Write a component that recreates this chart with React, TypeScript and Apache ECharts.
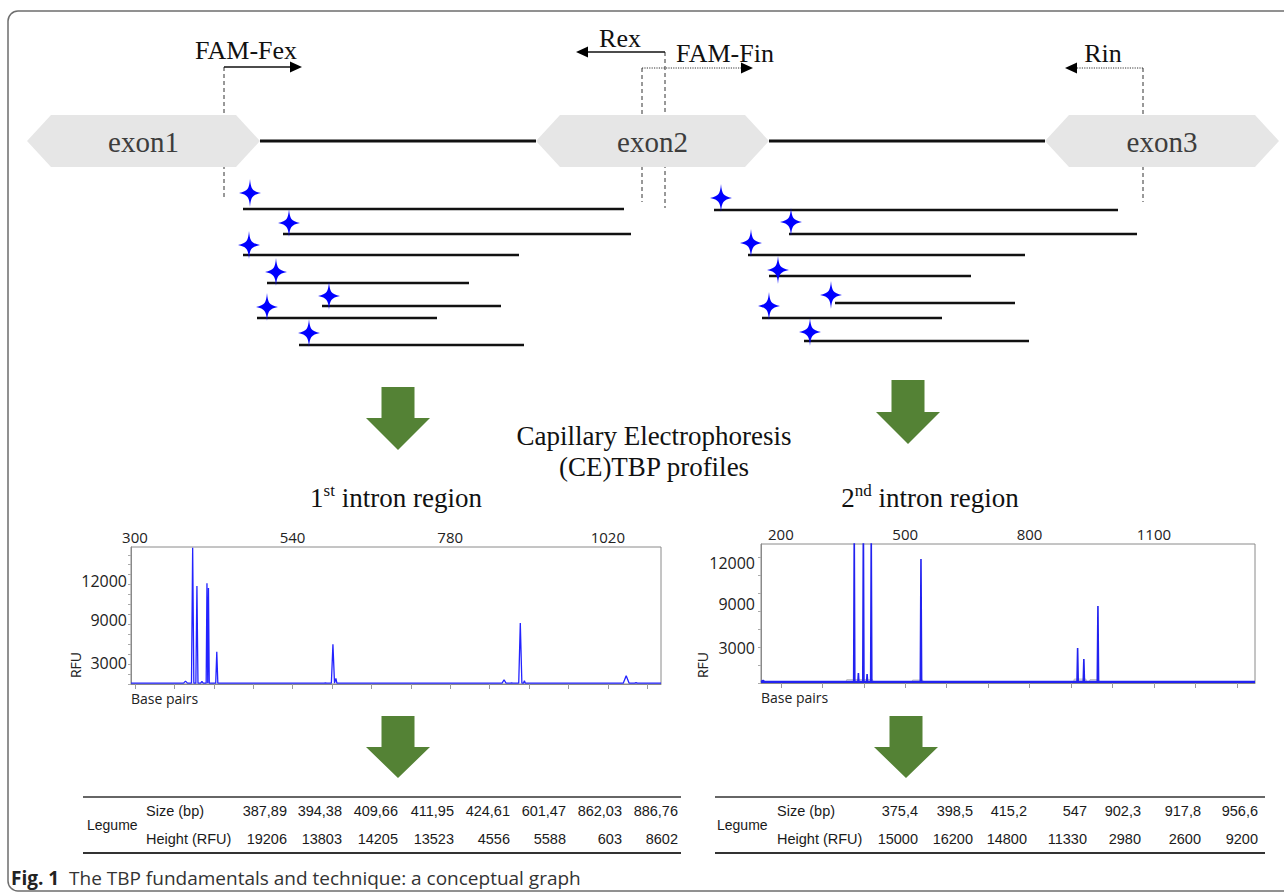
import React, { useEffect, useRef } from 'react';
import * as echarts from 'echarts';

// ---------------- Top diagram (hidden cartesian grid, units = canvas px) ----------------
const exonNames = ['exon1', 'exon2', 'exon3'];
const exonStart = [27, 536, 1045];
const exonEnd = [260, 769, 1279];
const exonY = [141, 141, 141];

const intronStart = [260, 769];
const intronEnd = [536, 1045];
const intronY = [141, 141];

const primerNames = ['FAM-Fex', 'Rex', 'FAM-Fin', 'Rin'];
const primerAnchor = [224, 665, 642, 1143];
const primerTip = [302, 576, 753, 1065];
const primerY = [67, 52, 68, 68];
const primerGuideEnd = [200, 208, 202, 202];
const primerDotted = [0, 0, 1, 1];
const primerLabelX = [246, 620, 725, 1103];
const primerLabelY = [50, 38, 53, 53];

const frag1Start = [243, 283, 243, 267, 322, 257, 299];
const frag1End = [624, 631, 519, 469, 501, 437, 524];
const frag1Y = [209, 234, 255, 283, 306, 318, 345];
const star1X = [250, 289, 249, 276, 329, 267, 309];
const star1Y = [193, 223, 245, 272, 296, 307, 333];

const frag2Start = [714, 789, 748, 769, 835, 762, 804];
const frag2End = [1118, 1137, 1025, 971, 1015, 942, 1029];
const frag2Y = [210, 234, 255, 276, 303, 318, 341];
const star2X = [721, 791, 751, 778, 831, 769, 810];
const star2Y = [198, 222, 243, 270, 295, 306, 332];

const greenArrowX = [398, 908, 398, 906];
const greenArrowTop = [387, 380, 716, 716];
const greenArrowNeck = [418, 412, 747, 747];
const greenArrowTip = [450, 444, 778, 778];

// ---------------- CE profile, 1st intron ----------------
const ce1XMin = 294;
const ce1XMax = 1101;
const ce1XTicks = [300, 360, 420, 480, 540, 600, 660, 720, 780, 840, 900, 960, 1020, 1080];
const ce1XLabels = [300, 540, 780, 1020];
const ce1YMax = 19300;
const ce1YTicks = [0, 1400, 2800, 4200, 5600, 7000, 8400, 9800, 11200, 12600, 14000, 15400, 16800, 18200];
const ce1YLabelAt = [3000, 9000, 14500];
const ce1YLabelText = ['3000', '9000', '12000'];
const ce1PeakSize = [377, 387.89, 394.38, 402, 409.66, 411.95, 424.61, 590, 601.47, 606, 862.03, 873.5, 886.76, 893, 1048, 1063];
const ce1PeakHeight = [400, 19206, 13803, 350, 14205, 13523, 4556, 150, 5588, 800, 603, 150, 8602, 450, 1150, 200];
const ce1PeakHalfWidth = [3, 1.8, 1.6, 2, 1.2, 1.2, 1.6, 2, 2.4, 1.5, 3, 2, 2.4, 1.5, 4.5, 2];

// ---------------- CE profile, 2nd intron ----------------
const ce2XMin = 152;
const ce2XMax = 1344;
const ce2XTicks = [200, 300, 400, 500, 600, 700, 800, 900, 1000, 1100, 1200, 1300];
const ce2XLabels = [200, 500, 800, 1100];
const ce2YMax = 13900;
const ce2YTicks = [0, 1800, 3600, 5400, 7200, 9000, 10800, 12600];
const ce2YLabelAt = [3500, 7900, 12000];
const ce2YLabelText = ['3000', '9000', '12000'];
const ce2PeakSize = [157, 377, 387, 399, 408, 418, 538, 916, 931, 965];
const ce2PeakHeight = [250, 15000, 1000, 16200, 900, 14800, 12400, 3500, 2400, 7700];
const ce2PeakHalfWidth = [4, 1.4, 1.2, 1.4, 1.2, 1.4, 1.6, 1.5, 1.5, 1.6];
const ce2ShadeCenter = [390, 530, 922, 956];
const ce2ShadeHalf = [31, 12, 14, 10];
const ce2ShadeHeight = [350, 300, 400, 350];

// ---------------- Tables ----------------
const table1Sizes = [387.89, 394.38, 409.66, 411.95, 424.61, 601.47, 862.03, 886.76];
const table1Heights = [19206, 13803, 14205, 13523, 4556, 5588, 603, 8602];
const table2Sizes = [375.4, 398.5, 415.2, 547, 902.3, 917.8, 956.6];
const table2Heights = [15000, 16200, 14800, 11330, 2980, 2600, 9200];

const table1ColRight = [287, 342, 398, 454, 510, 566, 622, 678];
const table2ColRight = [918, 973, 1027, 1087, 1141, 1201, 1258];

const STAR = 'path://M0,-14C1,-4 2,-2 11,0C2,2 1,4 0,14C-1,4 -2,2 -11,0C-2,-2 -1,-4 0,-14Z';
const SERIF = '"Liberation Serif", "Times New Roman", serif';
const SANS = '"Open Sans", "DejaVu Sans", sans-serif';
const ARIAL = '"Liberation Sans", Arial, sans-serif';

function buildTrace(xs: number[], hs: number[], ws: number[], base: number, xmin: number, xmax: number) {
  const pts: number[][] = [[xmin, base]];
  xs.forEach((x, i) => {
    pts.push([x - ws[i], base], [x, hs[i]], [x + ws[i], base]);
  });
  pts.push([xmax, base]);
  return pts;
}

function buildShade(cs: number[], hw: number[], hs: number[]) {
  const pts: any[] = [];
  cs.forEach((c, i) => {
    pts.push([c - hw[i] - 3, 0], [c - hw[i], hs[i]], [c + hw[i], hs[i]], [c + hw[i] + 3, 0]);
    pts.push([c + hw[i] + 3, '-']);
  });
  return pts;
}

const fmt = (v: number) => String(v).replace('.', ',');

function textEl(x: number, y: number, text: string, font: string, align = 'left', fill = '#1a1a1a', extra: any = {}) {
  return {
    type: 'text',
    x,
    y,
    style: {
      text,
      font,
      fill,
      align,
      verticalAlign: 'middle',
      textAlign: align,
      textVerticalAlign: 'middle',
      ...extra,
    },
  };
}

function buildOption() {
  const P = (api: any, x: number, y: number) => api.coord([x, y]);

  const rfuLeft: any = textEl(75, 665, 'RFU', `14px ${SANS}`, 'center', '#222');
  rfuLeft.rotation = Math.PI / 2;
  const rfuRight: any = textEl(702, 665, 'RFU', `14px ${SANS}`, 'center', '#222');
  rfuRight.rotation = Math.PI / 2;

  const graphics: any[] = [
    {
      type: 'rect',
      shape: { x: 8, y: 11, width: 1300, height: 880, r: 10 },
      style: { fill: 'none', stroke: '#6e6e6e', lineWidth: 1.5 },
      z: 0,
    },
    textEl(654, 436, 'Capillary Electrophoresis', `27px ${SERIF}`, 'center', '#111'),
    textEl(654, 467, '(CE)TBP profiles', `27px ${SERIF}`, 'center', '#111'),
    textEl(396, 498, '{a|1}{s|st}{a| intron region}', `27px ${SERIF}`, 'center', '#111', {
      rich: {
        a: { font: `27px ${SERIF}`, fill: '#111', lineHeight: 32 },
        s: { font: `17px ${SERIF}`, fill: '#111', verticalAlign: 'top', lineHeight: 32, padding: [0, 0, 12, 0] },
      },
    }),
    textEl(930, 498, '{a|2}{s|nd}{a| intron region}', `27px ${SERIF}`, 'center', '#111', {
      rich: {
        a: { font: `27px ${SERIF}`, fill: '#111', lineHeight: 32 },
        s: { font: `17px ${SERIF}`, fill: '#111', verticalAlign: 'top', lineHeight: 32, padding: [0, 0, 12, 0] },
      },
    }),
    rfuLeft,
    textEl(131, 698, 'Base pairs', `14px ${SANS}`, 'left', '#222'),
    rfuRight,
    textEl(761, 697, 'Base pairs', `14px ${SANS}`, 'left', '#222'),
    textEl(11, 878, '{b|Fig. 1}{n|  The TBP fundamentals and technique: a conceptual graph}', `19px ${SANS}`, 'left', '#222', {
      rich: {
        b: { font: `bold 19px ${SANS}`, fill: '#222' },
        n: { font: `19px ${SANS}`, fill: '#333' },
      },
    }),
  ];

  const tables = [
    { sizes: table1Sizes, heights: table1Heights, cols: table1ColRight, x0: 83, x1: 681, legX: 87, labX: 146 },
    { sizes: table2Sizes, heights: table2Heights, cols: table2ColRight, x0: 715, x1: 1265, legX: 717, labX: 777 },
  ];
  tables.forEach((t) => {
    graphics.push({ type: 'line', shape: { x1: t.x0, y1: 797, x2: t.x1, y2: 797 }, style: { stroke: '#333', lineWidth: 1.6 } });
    graphics.push({ type: 'line', shape: { x1: t.x0, y1: 853, x2: t.x1, y2: 853 }, style: { stroke: '#333', lineWidth: 2.2 } });
    graphics.push(textEl(t.legX, 825, 'Legume', `14px ${ARIAL}`));
    graphics.push(textEl(t.labX, 811, 'Size (bp)', `14.5px ${ARIAL}`));
    graphics.push(textEl(t.labX, 839, 'Height (RFU)', `14.5px ${ARIAL}`));
    t.sizes.forEach((s, i) => {
      graphics.push(textEl(t.cols[i], 811, fmt(s), `14.5px ${ARIAL}`, 'right'));
      graphics.push(textEl(t.cols[i], 839, String(t.heights[i]), `14.5px ${ARIAL}`, 'right'));
    });
  });

  const axisColor = '#8a8a8a';
  const plain = (v: number) => String(v);

  return {
    animation: false,
    backgroundColor: '#ffffff',
    graphic: graphics,
    grid: [
      { left: 0, top: 0, width: 1284, height: 894, show: false },
      { left: 131, top: 547, width: 530, height: 137, show: true, borderColor: axisColor, borderWidth: 1 },
      { left: 761, top: 544, width: 494, height: 139, show: true, borderColor: axisColor, borderWidth: 1 },
    ],
    xAxis: [
      { gridIndex: 0, type: 'value', min: 0, max: 1284, show: false },
      {
        gridIndex: 1, type: 'value', position: 'top', min: ce1XMin, max: ce1XMax,
        axisLine: { show: true, lineStyle: { color: axisColor } },
        axisTick: { show: true, customValues: ce1XTicks, inside: true, length: 5, lineStyle: { color: '#9a9a9a' } },
        axisLabel: { customValues: ce1XLabels, color: '#222', fontSize: 15, fontFamily: SANS, margin: 3, formatter: plain },
        splitLine: { show: false },
      },
      {
        gridIndex: 2, type: 'value', position: 'top', min: ce2XMin, max: ce2XMax,
        axisLine: { show: true, lineStyle: { color: axisColor } },
        axisTick: { show: true, customValues: ce2XTicks, inside: true, length: 5, lineStyle: { color: '#9a9a9a' } },
        axisLabel: { customValues: ce2XLabels, color: '#222', fontSize: 15, fontFamily: SANS, margin: 3, formatter: plain },
        splitLine: { show: false },
      },
    ],
    yAxis: [
      { gridIndex: 0, type: 'value', min: 0, max: 894, inverse: true, show: false },
      {
        gridIndex: 1, type: 'value', min: 0, max: ce1YMax,
        axisLine: { show: true, lineStyle: { color: axisColor } },
        axisTick: { show: true, customValues: ce1YTicks, length: 3, lineStyle: { color: '#aaa' } },
        axisLabel: {
          customValues: ce1YLabelAt, color: '#222', fontSize: 16, fontFamily: SANS, margin: 4,
          formatter: (v: number) => { const i = ce1YLabelAt.indexOf(v); return i >= 0 ? ce1YLabelText[i] : ''; },
        },
        splitLine: { show: false },
      },
      {
        gridIndex: 2, type: 'value', min: 0, max: ce2YMax,
        axisLine: { show: true, lineStyle: { color: axisColor } },
        axisTick: { show: true, customValues: ce2YTicks, length: 3, lineStyle: { color: '#aaa' } },
        axisLabel: {
          customValues: ce2YLabelAt, color: '#222', fontSize: 16, fontFamily: SANS, margin: 6,
          formatter: (v: number) => { const i = ce2YLabelAt.indexOf(v); return i >= 0 ? ce2YLabelText[i] : ''; },
        },
        splitLine: { show: false },
      },
    ],
    series: [
      {
        type: 'custom', xAxisIndex: 0, yAxisIndex: 0, z: 1, silent: true,
        data: primerAnchor.map((x, i) => [x, primerY[i], primerGuideEnd[i]]),
        renderItem: (params: any, api: any) => {
          const a = P(api, api.value(0), api.value(1));
          const b = P(api, api.value(0), api.value(2));
          return {
            type: 'line',
            shape: { x1: a[0], y1: a[1], x2: b[0], y2: b[1] },
            style: { stroke: '#333', lineWidth: 1, lineDash: [4, 3] },
          };
        },
      },
      {
        type: 'custom', xAxisIndex: 0, yAxisIndex: 0, z: 2, silent: true,
        data: intronStart.map((s, i) => [s, intronEnd[i], intronY[i]]),
        renderItem: (params: any, api: any) => {
          const a = P(api, api.value(0), api.value(2));
          const b = P(api, api.value(1), api.value(2));
          return {
            type: 'line',
            shape: { x1: a[0], y1: a[1], x2: b[0], y2: b[1] },
            style: { stroke: '#111', lineWidth: 3 },
          };
        },
      },
      {
        type: 'custom', xAxisIndex: 0, yAxisIndex: 0, z: 3, silent: true,
        data: exonStart.map((s, i) => [s, exonEnd[i], exonY[i]]),
        renderItem: (params: any, api: any) => {
          const l = P(api, api.value(0), api.value(2));
          const r = P(api, api.value(1), api.value(2));
          const hh = 26;
          const inset = 24;
          const pts = [
            [l[0], l[1]], [l[0] + inset, l[1] - hh], [r[0] - inset, r[1] - hh],
            [r[0], r[1]], [r[0] - inset, r[1] + hh], [l[0] + inset, l[1] + hh],
          ];
          return {
            type: 'group',
            children: [
              { type: 'polygon', shape: { points: pts }, style: { fill: '#e6e6e6' } },
              {
                type: 'text', x: (l[0] + r[0]) / 2, y: l[1] + 1,
                style: {
                  text: exonNames[params.dataIndex], font: `29px ${SERIF}`, fill: '#3d3d3d',
                  align: 'center', verticalAlign: 'middle', textAlign: 'center', textVerticalAlign: 'middle',
                },
              },
            ],
          };
        },
      },
      {
        type: 'custom', xAxisIndex: 0, yAxisIndex: 0, z: 4, silent: true,
        data: primerAnchor.map((x, i) => [x, primerTip[i], primerY[i], primerDotted[i], primerLabelX[i], primerLabelY[i]]),
        renderItem: (params: any, api: any) => {
          const a = P(api, api.value(0), api.value(2));
          const t = P(api, api.value(1), api.value(2));
          const lab = P(api, api.value(4), api.value(5));
          const dir = t[0] > a[0] ? 1 : -1;
          const head = 12;
          const dotted = api.value(3) === 1;
          return {
            type: 'group',
            children: [
              {
                type: 'line',
                shape: { x1: a[0], y1: a[1], x2: t[0] - dir * head, y2: t[1] },
                style: dotted ? { stroke: '#333', lineWidth: 1, lineDash: [1.2, 1.2] } : { stroke: '#111', lineWidth: 1.3 },
              },
              {
                type: 'polygon',
                shape: { points: [[t[0], t[1]], [t[0] - dir * head, t[1] - 5.5], [t[0] - dir * head, t[1] + 5.5]] },
                style: { fill: '#000' },
              },
              {
                type: 'text', x: lab[0], y: lab[1],
                style: {
                  text: primerNames[params.dataIndex], font: `26px ${SERIF}`, fill: '#111',
                  align: 'center', verticalAlign: 'middle', textAlign: 'center', textVerticalAlign: 'middle',
                },
              },
            ],
          };
        },
      },
      {
        type: 'custom', xAxisIndex: 0, yAxisIndex: 0, z: 4, silent: true,
        data: [
          ...frag1Start.map((s, i) => [s, frag1End[i], frag1Y[i]]),
          ...frag2Start.map((s, i) => [s, frag2End[i], frag2Y[i]]),
        ],
        renderItem: (params: any, api: any) => {
          const a = P(api, api.value(0), api.value(2));
          const b = P(api, api.value(1), api.value(2));
          return {
            type: 'line',
            shape: { x1: a[0], y1: a[1], x2: b[0], y2: b[1] },
            style: { stroke: '#111', lineWidth: 2.6 },
          };
        },
      },
      {
        type: 'scatter', xAxisIndex: 0, yAxisIndex: 0, z: 6, silent: true,
        symbol: STAR, symbolSize: [22, 28],
        itemStyle: { color: '#0000ff', opacity: 1 },
        data: [...star1X.map((x, i) => [x, star1Y[i]]), ...star2X.map((x, i) => [x, star2Y[i]])],
      },
      {
        type: 'custom', xAxisIndex: 0, yAxisIndex: 0, z: 4, silent: true,
        data: greenArrowX.map((x, i) => [x, greenArrowTop[i], greenArrowNeck[i], greenArrowTip[i]]),
        renderItem: (params: any, api: any) => {
          const top = P(api, api.value(0), api.value(1));
          const neck = P(api, api.value(0), api.value(2));
          const tip = P(api, api.value(0), api.value(3));
          const sw = 16.5;
          const hw = 32;
          const cx = top[0];
          return {
            type: 'polygon',
            shape: {
              points: [
                [cx - sw, top[1]], [cx + sw, top[1]], [cx + sw, neck[1]], [cx + hw, neck[1]],
                [cx, tip[1]], [cx - hw, neck[1]], [cx - sw, neck[1]],
              ],
            },
            style: { fill: '#548235' },
          };
        },
      },
      {
        type: 'line', xAxisIndex: 1, yAxisIndex: 1, showSymbol: false, silent: true, clip: true,
        lineStyle: { color: '#2323ff', width: 1.3 },
        data: buildTrace(ce1PeakSize, ce1PeakHeight, ce1PeakHalfWidth, 120, ce1XMin, ce1XMax),
      },
      {
        type: 'line', xAxisIndex: 2, yAxisIndex: 2, showSymbol: false, silent: true, clip: true,
        lineStyle: { color: '#b8b8b8', width: 0.8 },
        areaStyle: { color: '#d4d4d4' },
        data: buildShade(ce2ShadeCenter, ce2ShadeHalf, ce2ShadeHeight),
      },
      {
        type: 'line', xAxisIndex: 2, yAxisIndex: 2, showSymbol: false, silent: true, clip: true,
        lineStyle: { color: '#2222f0', width: 1.6 },
        data: buildTrace(ce2PeakSize, ce2PeakHeight, ce2PeakHalfWidth, 120, ce2XMin, ce2XMax),
      },
      {
        type: 'line', xAxisIndex: 2, yAxisIndex: 2, showSymbol: false, silent: true, clip: true,
        lineStyle: { color: '#2222f0', width: 2.4 },
        data: [[ce2XMin, 110], [ce2XMax, 110]],
      },
    ],
  };
}

export default function App() {
  const ref = useRef<HTMLDivElement>(null);
  useEffect(() => {
    document.body.style.margin = '0';
    const chart = echarts.init(ref.current as HTMLDivElement, null, { renderer: 'svg' });
    chart.setOption(buildOption() as any);
    return () => chart.dispose();
  }, []);
  return <div ref={ref} style={{ width: 1284, height: 894 }} />;
}
